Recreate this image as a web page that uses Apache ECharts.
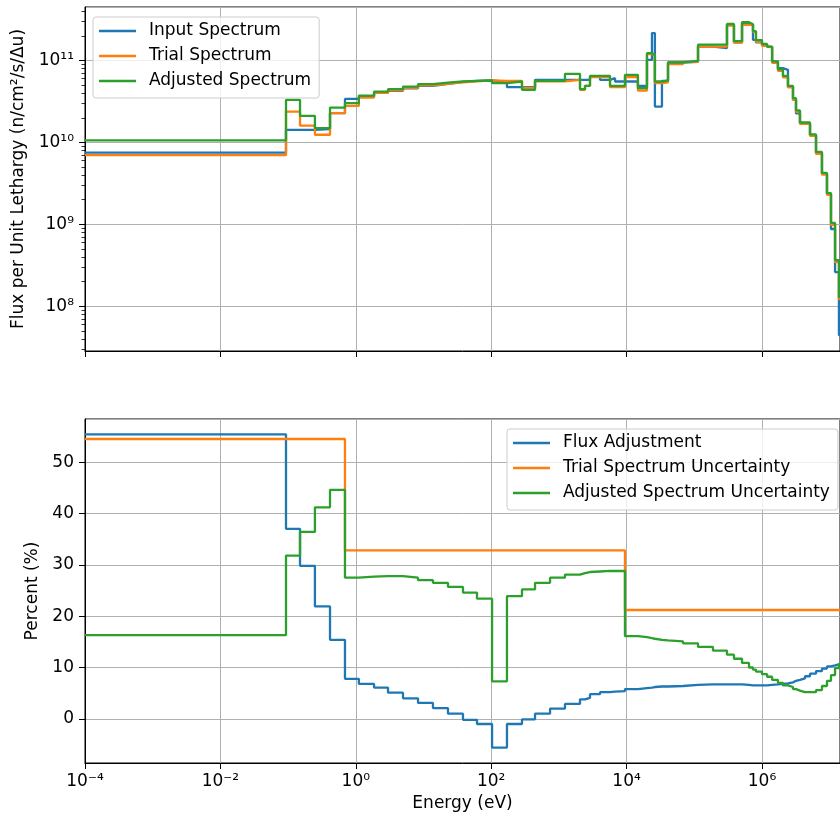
<!DOCTYPE html>
<html>
<head>
<meta charset="utf-8">
<script src="https://cdn.jsdelivr.net/npm/echarts@6/dist/echarts.min.js"></script>
<style>
html,body{margin:0;padding:0;background:#fff;}
#chart{width:840px;height:820px;}
</style>
</head>
<body>
<div id="chart"></div>
<script>
// group boundaries (eV)
var edges = [1e-4, 0.0931, 0.150, 0.249, 0.416, 0.692, 1.11, 1.86, 2.99, 4.98, 8.30,
  13.8, 23.0, 38.3, 61.7, 103, 171, 285, 444, 740, 1230,
  2050, 2430, 2880, 4050, 5690, 6750, 9460, 14700, 20000, 23700,
  26200, 33300, 40900, 68100, 113500, 188800, 304000, 385500, 507000, 643000,
  736000, 815000, 1.0e6, 1.19e6, 1.41e6, 1.72e6, 2.04e6, 2.42e6, 2.87e6, 3.18e6,
  3.64e6, 4.32e6, 5.12e6, 6.28e6, 7.69e6, 9.12e6, 1.045e7, 1.20e7, 1.37e7, 1.7e7];

// flux per unit lethargy, one value per group
var inputFlux = [7.50e9, 1.42e10, 1.42e10, 1.45e10, 2.28e10, 3.40e10, 3.60e10, 4.03e10, 4.27e10, 4.57e10,
  4.91e10, 5.19e10, 5.49e10, 5.65e10, 5.73e10, 5.49e10, 4.73e10, 4.77e10, 5.81e10, 5.81e10,
  5.81e10, 5.81e10, 5.81e10, 6.32e10, 5.81e10, 6.09e10, 5.54e10, 5.54e10, 4.91e10, 1.02e11,
  2.16e11, 2.74e10, 5.65e10, 9.46e10, 9.64e10, 1.48e11, 1.42e11, 2.73e11, 1.67e11, 2.89e11,
  2.73e11, 1.79e11, 1.66e11, 1.56e11, 1.47e11, 9.64e10, 8.07e10, 7.69e10, 4.77e10, 3.31e10,
  2.26e10, 1.71e10, 1.71e10, 1.22e10, 7.44e9, 4.16e9, 2.35e9, 8.77e8, 2.61e8, 4.43e7];
var trialFlux = [6.98e9, 2.38e10, 1.60e10, 1.24e10, 2.28e10, 2.79e10, 3.53e10, 4.03e10, 4.32e10, 4.64e10,
  4.98e10, 5.19e10, 5.41e10, 5.57e10, 5.73e10, 5.65e10, 5.65e10, 4.64e10, 5.57e10, 5.57e10,
  5.81e10, 4.38e10, 4.91e10, 6.27e10, 6.27e10, 4.73e10, 4.73e10, 6.27e10, 4.30e10, 1.20e11,
  1.17e11, 5.30e10, 5.41e10, 9.04e10, 9.64e10, 1.48e11, 1.48e11, 2.66e11, 1.65e11, 2.73e11,
  2.73e11, 2.24e11, 1.69e11, 1.51e11, 1.43e11, 9.37e10, 7.48e10, 6.23e10, 4.70e10, 3.31e10,
  2.36e10, 1.68e10, 1.68e10, 1.20e10, 7.23e9, 4.04e9, 2.29e9, 9.82e8, 3.46e8, 1.22e8];
var adjustedFlux = [1.06e10, 3.31e10, 2.11e10, 1.49e10, 2.66e10, 3.01e10, 3.73e10, 4.18e10, 4.47e10, 4.81e10,
  5.14e10, 5.38e10, 5.54e10, 5.65e10, 5.70e10, 5.30e10, 5.54e10, 4.38e10, 5.65e10, 5.65e10,
  6.88e10, 4.47e10, 4.91e10, 6.50e10, 6.50e10, 4.91e10, 4.91e10, 6.68e10, 4.60e10, 1.23e11,
  1.17e11, 5.54e10, 5.70e10, 9.46e10, 9.91e10, 1.56e11, 1.56e11, 2.79e11, 1.72e11, 2.93e11,
  2.77e11, 2.28e11, 1.77e11, 1.59e11, 1.48e11, 9.78e10, 7.80e10, 6.50e10, 4.91e10, 3.47e10,
  2.46e10, 1.75e10, 1.75e10, 1.25e10, 7.66e9, 4.24e9, 2.41e9, 1.04e9, 3.66e8, 1.29e8];

// percent, one value per group
var fluxAdjustment = [55.4, 37.0, 29.8, 21.9, 15.4, 7.8, 6.8, 6.1, 5.1, 4.0,
  3.1, 2.1, 1.0, -0.2, -1.0, -5.6, -1.0, -0.1, 1.0, 2.0,
  2.9, 3.8, 4.1, 4.8, 5.2, 5.3, 5.4, 5.8, 6.0, 6.1,
  6.2, 6.3, 6.3, 6.4, 6.6, 6.7, 6.7, 6.7, 6.7, 6.6,
  6.5, 6.5, 6.5, 6.5, 6.6, 6.7, 6.8, 6.9, 7.1, 7.4,
  7.6, 7.9, 8.3, 8.8, 9.3, 9.8, 10.2, 10.4, 10.6, 10.7];
var trialUnc = [54.5, 54.5, 54.5, 54.5, 54.5, 32.8, 32.8, 32.8, 32.8, 32.8,
  32.8, 32.8, 32.8, 32.8, 32.8, 32.8, 32.8, 32.8, 32.8, 32.8,
  32.8, 32.8, 32.8, 32.8, 32.8, 32.8, 32.8, 21.2, 21.2, 21.2,
  21.2, 21.2, 21.2, 21.2, 21.2, 21.2, 21.2, 21.2, 21.2, 21.2,
  21.2, 21.2, 21.2, 21.2, 21.2, 21.2, 21.2, 21.2, 21.2, 21.2,
  21.2, 21.2, 21.2, 21.2, 21.2, 21.2, 21.2, 21.2, 21.2, 21.2];
var adjustedUnc = [16.3, 31.8, 36.4, 41.2, 44.6, 27.5, 27.7, 27.8, 27.8, 27.5,
  27.0, 26.5, 25.7, 24.6, 23.4, 7.3, 23.9, 25.2, 26.5, 27.5,
  28.1, 28.4, 28.6, 28.7, 28.8, 28.8, 28.8, 16.1, 15.9, 15.7,
  15.6, 15.4, 15.3, 15.1, 14.7, 14.0, 13.3, 12.5, 11.7, 10.9,
  10.0, 9.6, 9.2, 8.7, 8.2, 7.6, 7.0, 6.5, 6.2, 5.8,
  5.5, 5.2, 5.2, 5.2, 5.6, 6.4, 7.4, 8.5, 9.9, 10.7];

// tick labels
var xTickExps = [-4, -2, 0, 2, 4, 6];
var xTickLabels = ['10\u207B\u2074', '10\u207B\u00B2', '10\u2070', '10\u00B2', '10\u2074', '10\u2076'];
var fluxTickExps = [8, 9, 10, 11];
var fluxTickLabels = ['10\u2078', '10\u2079', '10\u00B9\u2070', '10\u00B9\u00B9'];

var C_BLUE = '#1f77b4', C_ORANGE = '#ff7f0e', C_GREEN = '#2ca02c';
var FONT = 'DejaVu Sans';
var FS = 17;
var LW = 2.3;

function stepPoints(e, vals) {
	var pts = [];
	for (var i = 0; i < vals.length; i++) {
		pts.push([e[i], vals[i]]);
	}
	pts.push([e[vals.length], vals[vals.length - 1]]);
	return pts;
}

function expLabel(exps, labels) {
	return function(v) {
		var lg = Math.log(v) / Math.LN10;
		var n = Math.round(lg);
		var k = exps.indexOf(n);
		if (k < 0 || Math.abs(lg - n) > 1e-6) return '';
		return labels[k];
	};
}

// minor ticks 2..9 x 10^n for the log flux axis
var fluxMinor = [];
for (var p = 7; p <= 11; p++) {
	for (var m = 2; m <= 9; m++) {
		fluxMinor.push(m * Math.pow(10, p));
	}
}

// axes end at the right edge of the picture
var xMin = 1e-4, xMax = 1.42e7;
var fluxMin = 2.84e7, fluxMax = 4.50e11;

function xAxisCfg(grid, showLabels) {
	return {
		type: 'log', gridIndex: grid, min: xMin, max: xMax, interval: 2,
		name: showLabels ? 'Energy (eV)' : '',
		nameLocation: 'middle', nameGap: 32,
		nameTextStyle: {fontSize: FS, color: '#000', fontFamily: FONT},
		axisLine: {show: true, onZero: false, lineStyle: {color: '#000', width: 1}},
		axisTick: {show: true, length: 6, lineStyle: {color: '#000', width: 1}},
		axisLabel: {show: showLabels, margin: 10, fontSize: FS, color: '#000', fontFamily: FONT,
			showMinLabel: true, showMaxLabel: false,
			formatter: expLabel(xTickExps, xTickLabels)},
		splitLine: {show: true, lineStyle: {color: '#b0b0b0', width: 1}},
		minorTick: {show: false}
	};
}

function legendCfg(names, left, top) {
	return {
		data: names,
		orient: 'vertical', left: left, top: top,
		icon: 'rect', itemWidth: 37, itemHeight: 2.3, itemGap: 5,
		padding: [4, 8, 7, 6],
		backgroundColor: 'rgba(255,255,255,0.8)', borderColor: '#cccccc', borderWidth: 1, borderRadius: 3,
		textStyle: {fontSize: FS, color: '#000', lineHeight: 20, padding: [0, 0, 0, 8], fontFamily: FONT},
		selectedMode: false
	};
}

function stepSeries(name, xi, yi, vals, color) {
	return {
		name: name, type: 'line', step: 'end', xAxisIndex: xi, yAxisIndex: yi,
		data: stepPoints(edges, vals), symbol: 'none', showSymbol: false,
		lineStyle: {color: color, width: LW}, itemStyle: {color: color}
	};
}

var chart = echarts.init(document.getElementById('chart'));

var option = {
	animation: false,
	backgroundColor: '#fff',
	textStyle: {fontFamily: FONT},
	grid: [
		{left: 85, top: 7, width: 755, height: 344, show: true, borderColor: '#000', borderWidth: 1},
		{left: 85, top: 419, width: 755, height: 344, show: true, borderColor: '#000', borderWidth: 1}
	],
	legend: [
		legendCfg(['Input Spectrum', 'Trial Spectrum', 'Adjusted Spectrum'], 93, 17),
		legendCfg(['Flux Adjustment', 'Trial Spectrum Uncertainty', 'Adjusted Spectrum Uncertainty'], 507, 429)
	],
	xAxis: [xAxisCfg(0, false), xAxisCfg(1, true)],
	yAxis: [
		{
			type: 'log', gridIndex: 0, min: fluxMin, max: fluxMax,
			name: 'Flux per Unit Lethargy (n/cm\u00B2/s/\u0394u)',
			nameLocation: 'middle', nameGap: 58,
			nameTextStyle: {fontSize: FS, color: '#000', fontFamily: FONT},
			axisLine: {show: true, onZero: false, lineStyle: {color: '#000', width: 1}},
			axisTick: {show: true, length: 6, lineStyle: {color: '#000', width: 1}},
			axisLabel: {margin: 11, fontSize: FS, color: '#000', fontFamily: FONT,
				showMinLabel: false, showMaxLabel: false,
				formatter: expLabel(fluxTickExps, fluxTickLabels)},
			splitLine: {show: true, lineStyle: {color: '#b0b0b0', width: 1}}
		},
		{
			type: 'log', gridIndex: 0, min: fluxMin, max: fluxMax, position: 'left',
			axisLine: {show: false, onZero: false},
			axisTick: {show: true, length: 3.5, customValues: fluxMinor, lineStyle: {color: '#000', width: 0.8}},
			axisLabel: {show: false},
			splitLine: {show: false}
		},
		{
			type: 'value', gridIndex: 1, min: -8.6, max: 58.4,
			name: 'Percent (%)',
			nameLocation: 'middle', nameGap: 38,
			nameTextStyle: {fontSize: FS, color: '#000', fontFamily: FONT},
			axisLine: {show: true, onZero: false, lineStyle: {color: '#000', width: 1}},
			axisTick: {show: true, length: 6, lineStyle: {color: '#000', width: 1}},
			axisLabel: {margin: 11, fontSize: FS, color: '#000', fontFamily: FONT,
				showMinLabel: false, showMaxLabel: false},
			splitLine: {show: true, lineStyle: {color: '#b0b0b0', width: 1}}
		}
	],
	series: [
		stepSeries('Input Spectrum', 0, 0, inputFlux, C_BLUE),
		stepSeries('Trial Spectrum', 0, 0, trialFlux, C_ORANGE),
		stepSeries('Adjusted Spectrum', 0, 0, adjustedFlux, C_GREEN),
		stepSeries('Flux Adjustment', 1, 2, fluxAdjustment, C_BLUE),
		stepSeries('Trial Spectrum Uncertainty', 1, 2, trialUnc, C_ORANGE),
		stepSeries('Adjusted Spectrum Uncertainty', 1, 2, adjustedUnc, C_GREEN)
	]
};

chart.setOption(option);
</script>
</body>
</html>
